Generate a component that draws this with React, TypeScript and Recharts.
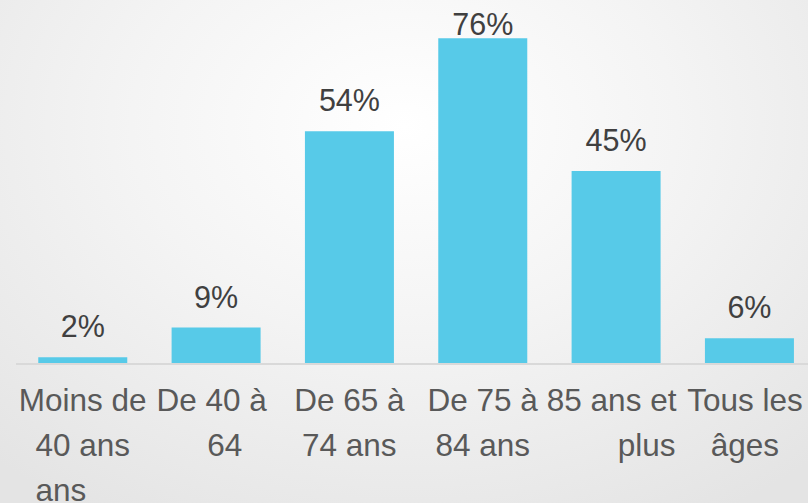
import React from 'react';
import { BarChart, Bar, XAxis, YAxis, LabelList } from 'recharts';

// age groups, as they wrap under the axis (nbsp keeps the odd offsets of the original)
const categories = ['Moins de 40 ans', 'De 40 à 64', 'De 65 à 74 ans', 'De 75 à 84 ans', '85 ans et plus', 'Tous les âges'];
const tickLines: string[][] = [
  ['Moins de', '40 ans', 'ans\u00a0\u00a0\u00a0\u00a0\u00a0'],
  ['De 40 à\u00a0', '\u00a0\u00a064'],
  ['De 65 à', '74 ans'],
  ['De 75 à', '84 ans'],
  ['85 ans et\u00a0', '\u00a0\u00a0\u00a0\u00a0\u00a0\u00a0\u00a0plus'],
  ['Tous les\u00a0', 'âges\u00a0'],
];
// share in %
const shares = [1.6, 8.5, 54.3, 76, 45, 6];

const data = categories.map((name, i) => ({ name, share: shares[i], lines: tickLines[i] }));

const FONT = '"Liberation Sans", Arial, sans-serif';

const AgeTick = (props: any) => {
  const { x, y, index } = props;
  const lines = tickLines[index] || [];
  return (
    <g>
      {lines.map((line, i) => (
        <text key={i} x={x} y={y + 47 + i * 45} textAnchor="middle" fill="#595959" fontSize={31.5} fontFamily={FONT}>
          {line}
        </text>
      ))}
    </g>
  );
};

const ShareLabel = (props: any) => {
  const { x, y, width, value } = props;
  // labels stay inside the chart area like in the original
  const ty = Math.max(y - 20, 35);
  return (
    <text x={x + width / 2} y={ty} textAnchor="middle" fill="#404040" fontSize={30.5} fontFamily={FONT}>
      {Math.round(value)}%
    </text>
  );
};

export default function App() {
  return (
    <div
      style={{
        position: 'absolute',
        left: 0,
        top: 0,
        width: 808,
        height: 503,
        overflow: 'hidden',
        background: 'radial-gradient(ellipse 75% 90% at 50% 25%, #ffffff 0%, #f4f4f4 45%, #e4e4e4 100%)',
      }}
    >
      <BarChart width={816} height={503} data={data} margin={{ top: 21, right: 0, left: 16, bottom: 0 }} barCategoryGap="16.7%">
        <XAxis
          dataKey="name"
          height={139}
          interval={0}
          tickLine={false}
          tickSize={0}
          tickMargin={0}
          axisLine={{ stroke: '#d9d9d9', strokeWidth: 2 }}
          tick={<AgeTick />}
        />
        <YAxis hide domain={[0, 80]} />
        <Bar dataKey="share" fill="#57cae8" isAnimationActive={false}>
          <LabelList dataKey="share" content={<ShareLabel />} />
        </Bar>
      </BarChart>
    </div>
  );
}
